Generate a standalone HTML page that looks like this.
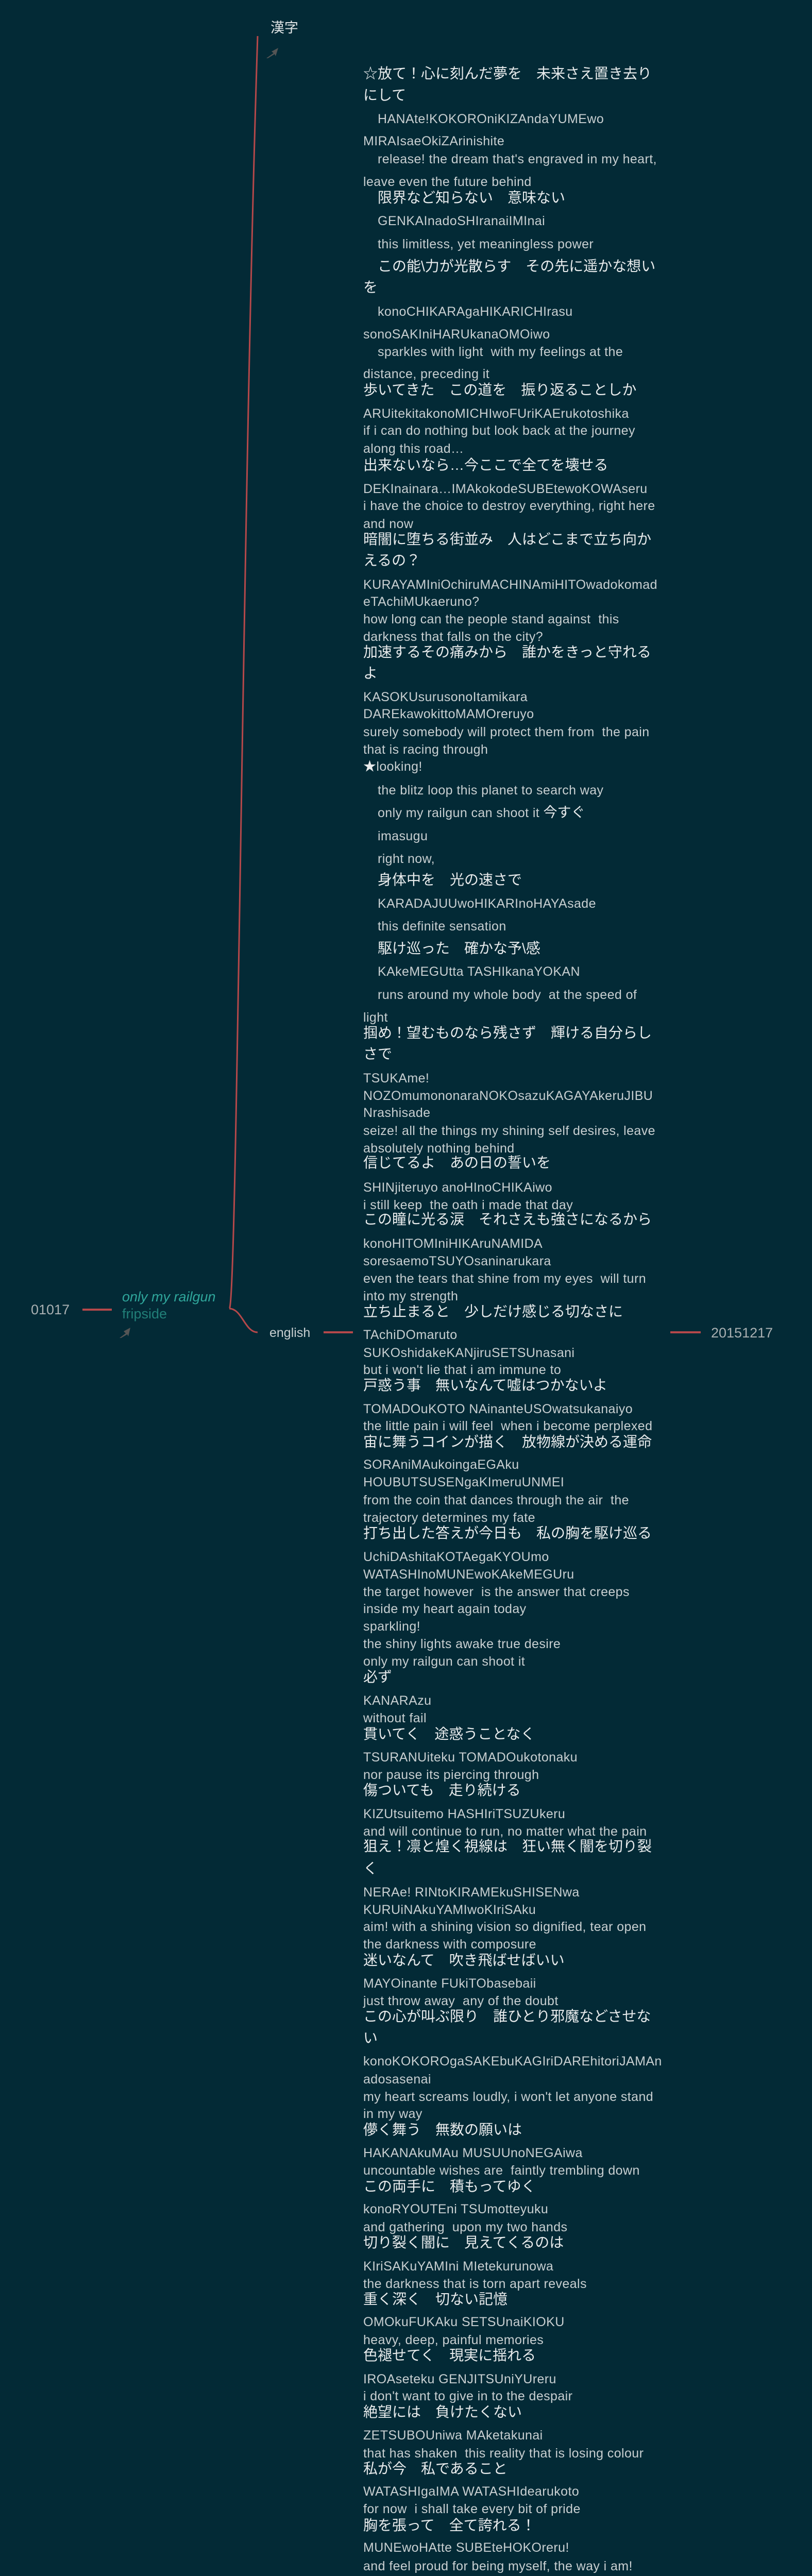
<!DOCTYPE html>
<html><head><meta charset="utf-8">
<style>
html,body{margin:0;padding:0;overflow:hidden;}
body{width:1576px;height:5084px;background:#032a36;position:relative;overflow:hidden;font-family:"Liberation Sans","Noto Sans CJK JP",sans-serif;}
svg{display:block;}
.l{position:absolute;left:705px;height:34px;line-height:34px;white-space:nowrap;font-size:25px;letter-spacing:0.4px;color:#c8cfd1;}
.j{font-size:28px;letter-spacing:0;color:#e8ebec;}
.i{left:733px;}
.n{position:absolute;white-space:nowrap;line-height:34px;height:34px;}
</style></head><body>
<svg width="1576" height="5084" style="position:absolute;left:0;top:0">
<path d="M445 2540 C 460 2540, 470 1000, 500 70" stroke="#b5484a" stroke-width="3" fill="none"/>
<path d="M445 2540 C 470 2540, 475 2586, 500 2586" stroke="#b5484a" stroke-width="3" fill="none"/>
<line x1="160" y1="2542" x2="217" y2="2542" stroke="#b5484a" stroke-width="4"/>
<line x1="628" y1="2586" x2="685" y2="2586" stroke="#b5484a" stroke-width="4"/>
<line x1="1301" y1="2586" x2="1360" y2="2586" stroke="#b5484a" stroke-width="4"/>
<polygon points="540,93 527,100 531,103 517,113 520,113 533,105 535,109" fill="#555"/>
<polygon points="253,2577 240,2584 244,2588 232,2597 235,2597 247,2590 249,2594" fill="#555"/>
</svg>
<div class="n" style="left:525px;top:37px;font-size:27px;color:#e0e4e5">漢字</div>
<div class="n" style="left:60px;top:2525px;font-size:27px;color:#a9b0b2">01017</div>
<div class="n" style="left:237px;top:2500px;font-size:27px;color:#2fa69b;font-style:italic">only my railgun</div>
<div class="n" style="left:237px;top:2533px;font-size:27px;color:#217f78">fripside</div>
<div class="n" style="left:523px;top:2570px;font-size:25px;color:#c8cfd1">english</div>
<div class="n" style="left:1380px;top:2570px;font-size:27px;color:#a9b0b2">20151217</div>

<div class="l j" style="top:126px">☆放て！心に刻んだ夢を　未来さえ置き去り</div>
<div class="l j" style="top:168px">にして</div>
<div class="l i" style="top:214px">HANAte!KOKOROniKIZAndaYUMEwo</div>
<div class="l" style="top:257px">MIRAIsaeOkiZArinishite</div>
<div class="l i" style="top:292px">release! the dream that's engraved in my heart,</div>
<div class="l" style="top:336px">leave even the future behind</div>
<div class="l j i" style="top:367px">限界など知らない　意味ない</div>
<div class="l i" style="top:412px">GENKAInadoSHIranaiIMInai</div>
<div class="l i" style="top:457px">this limitless, yet meaningless power</div>
<div class="l j i" style="top:500px">この能\力が光散らす　その先に遥かな想い</div>
<div class="l j" style="top:541px">を</div>
<div class="l i" style="top:588px">konoCHIKARAgaHIKARICHIrasu</div>
<div class="l" style="top:632px">sonoSAKIniHARUkanaOMOiwo</div>
<div class="l i" style="top:666px">sparkles with light&nbsp; with my feelings at the</div>
<div class="l" style="top:709px">distance, preceding it</div>
<div class="l j" style="top:740px">歩いてきた　この道を　振り返ることしか</div>
<div class="l" style="top:786px">ARUitekitakonoMICHIwoFUriKAErukotoshika</div>
<div class="l" style="top:819px">if i can do nothing but look back at the journey</div>
<div class="l" style="top:854px">along this road…</div>
<div class="l j" style="top:886px">出来ないなら…今ここで全てを壊せる</div>
<div class="l" style="top:932px">DEKInainara…IMAkokodeSUBEtewoKOWAseru</div>
<div class="l" style="top:965px">i have the choice to destroy everything, right here</div>
<div class="l" style="top:1000px">and now</div>
<div class="l j" style="top:1030px">暗闇に堕ちる街並み　人はどこまで立ち向か</div>
<div class="l j" style="top:1071px">えるの？</div>
<div class="l" style="top:1118px">KURAYAMIniOchiruMACHINAmiHITOwadokomad</div>
<div class="l" style="top:1151px">eTAchiMUkaeruno?</div>
<div class="l" style="top:1185px">how long can the people stand against&nbsp; this</div>
<div class="l" style="top:1219px">darkness that falls on the city?</div>
<div class="l j" style="top:1249px">加速するその痛みから　誰かをきっと守れる</div>
<div class="l j" style="top:1290px">よ</div>
<div class="l" style="top:1336px">KASOKUsurusonoItamikara</div>
<div class="l" style="top:1369px">DAREkawokittoMAMOreruyo</div>
<div class="l" style="top:1404px">surely somebody will protect them from&nbsp; the pain</div>
<div class="l" style="top:1438px">that is racing through</div>
<div class="l" style="top:1471px"><span style="color:#e8ebec">★</span>looking!</div>
<div class="l i" style="top:1517px">the blitz loop this planet to search way</div>
<div class="l i" style="top:1560px">only my railgun can shoot it <span style="font-size:27px;color:#e8ebec;letter-spacing:0">今すぐ</span></div>
<div class="l i" style="top:1606px">imasugu</div>
<div class="l i" style="top:1650px">right now,</div>
<div class="l j i" style="top:1691px">身体中を　光の速さで</div>
<div class="l i" style="top:1737px">KARADAJUUwoHIKARInoHAYAsade</div>
<div class="l i" style="top:1781px">this definite sensation</div>
<div class="l j i" style="top:1824px">駆け巡った　確かな予\感</div>
<div class="l i" style="top:1869px">KAkeMEGUtta TASHIkanaYOKAN</div>
<div class="l i" style="top:1914px">runs around my whole body&nbsp; at the speed of</div>
<div class="l" style="top:1958px">light</div>
<div class="l j" style="top:1988px">掴め！望むものなら残さず　輝ける自分らし</div>
<div class="l j" style="top:2029px">さで</div>
<div class="l" style="top:2076px">TSUKAme!</div>
<div class="l" style="top:2110px">NOZOmumononaraNOKOsazuKAGAYAkeruJIBU</div>
<div class="l" style="top:2143px">Nrashisade</div>
<div class="l" style="top:2178px">seize! all the things my shining self desires, leave</div>
<div class="l" style="top:2212px">absolutely nothing behind</div>
<div class="l j" style="top:2240px">信じてるよ　あの日の誓いを</div>
<div class="l" style="top:2288px">SHINjiteruyo anoHInoCHIKAiwo</div>
<div class="l" style="top:2322px">i still keep&nbsp; the oath i made that day</div>
<div class="l j" style="top:2350px">この瞳に光る涙　それさえも強さになるから</div>
<div class="l" style="top:2397px">konoHITOMIniHIKAruNAMIDA</div>
<div class="l" style="top:2431px">soresaemoTSUYOsaninarukara</div>
<div class="l" style="top:2465px">even the tears that shine from my eyes&nbsp; will turn</div>
<div class="l" style="top:2499px">into my strength</div>
<div class="l j" style="top:2529px">立ち止まると　少しだけ感じる切なさに</div>
<div class="l" style="top:2574px">TAchiDOmaruto</div>
<div class="l" style="top:2609px">SUKOshidakeKANjiruSETSUnasani</div>
<div class="l" style="top:2642px">but i won't lie that i am immune to</div>
<div class="l j" style="top:2672px">戸惑う事　無いなんて嘘はつかないよ</div>
<div class="l" style="top:2718px">TOMADOuKOTO NAinanteUSOwatsukanaiyo</div>
<div class="l" style="top:2751px">the little pain i will feel&nbsp; when i become perplexed</div>
<div class="l j" style="top:2782px">宙に舞うコインが描く　放物線が決める運命</div>
<div class="l" style="top:2826px">SORAniMAukoingaEGAku</div>
<div class="l" style="top:2860px">HOUBUTSUSENgaKImeruUNMEI</div>
<div class="l" style="top:2895px">from the coin that dances through the air&nbsp; the</div>
<div class="l" style="top:2929px">trajectory determines my fate</div>
<div class="l j" style="top:2959px">打ち出した答えが今日も　私の胸を駆け巡る</div>
<div class="l" style="top:3005px">UchiDAshitaKOTAegaKYOUmo</div>
<div class="l" style="top:3039px">WATASHInoMUNEwoKAkeMEGUru</div>
<div class="l" style="top:3073px">the target however&nbsp; is the answer that creeps</div>
<div class="l" style="top:3106px">inside my heart again today</div>
<div class="l" style="top:3140px">sparkling!</div>
<div class="l" style="top:3174px">the shiny lights awake true desire</div>
<div class="l" style="top:3208px">only my railgun can shoot it</div>
<div class="l j" style="top:3238px">必ず</div>
<div class="l" style="top:3284px">KANARAzu</div>
<div class="l" style="top:3318px">without fail</div>
<div class="l j" style="top:3349px">貫いてく　途惑うことなく</div>
<div class="l" style="top:3394px">TSURANUiteku TOMADOukotonaku</div>
<div class="l" style="top:3428px">nor pause its piercing through</div>
<div class="l j" style="top:3458px">傷ついても　走り続ける</div>
<div class="l" style="top:3504px">KIZUtsuitemo HASHIriTSUZUkeru</div>
<div class="l" style="top:3538px">and will continue to run, no matter what the pain</div>
<div class="l j" style="top:3567px">狙え！凛と煌く視線は　狂い無く闇を切り裂</div>
<div class="l j" style="top:3610px">く</div>
<div class="l" style="top:3656px">NERAe! RINtoKIRAMEkuSHISENwa</div>
<div class="l" style="top:3690px">KURUiNAkuYAMIwoKIriSAku</div>
<div class="l" style="top:3723px">aim! with a shining vision so dignified, tear open</div>
<div class="l" style="top:3757px">the darkness with composure</div>
<div class="l j" style="top:3788px">迷いなんて　吹き飛ばせばいい</div>
<div class="l" style="top:3833px">MAYOinante FUkiTObasebaii</div>
<div class="l" style="top:3867px">just throw away&nbsp; any of the doubt</div>
<div class="l j" style="top:3897px">この心が叫ぶ限り　誰ひとり邪魔などさせな</div>
<div class="l j" style="top:3939px">い</div>
<div class="l" style="top:3984px">konoKOKOROgaSAKEbuKAGIriDAREhitoriJAMAn</div>
<div class="l" style="top:4019px">adosasenai</div>
<div class="l" style="top:4053px">my heart screams loudly, i won't let anyone stand</div>
<div class="l" style="top:4086px">in my way</div>
<div class="l j" style="top:4117px">儚く舞う　無数の願いは</div>
<div class="l" style="top:4162px">HAKANAkuMAu MUSUUnoNEGAiwa</div>
<div class="l" style="top:4196px">uncountable wishes are&nbsp; faintly trembling down</div>
<div class="l j" style="top:4227px">この両手に　積もってゆく</div>
<div class="l" style="top:4271px">konoRYOUTEni TSUmotteyuku</div>
<div class="l" style="top:4306px">and gathering&nbsp; upon my two hands</div>
<div class="l j" style="top:4336px">切り裂く闇に　見えてくるのは</div>
<div class="l" style="top:4382px">KIriSAKuYAMIni MIetekurunowa</div>
<div class="l" style="top:4416px">the darkness that is torn apart reveals</div>
<div class="l j" style="top:4446px">重く深く　切ない記憶</div>
<div class="l" style="top:4490px">OMOkuFUKAku SETSUnaiKIOKU</div>
<div class="l" style="top:4525px">heavy, deep, painful memories</div>
<div class="l j" style="top:4555px">色褪せてく　現実に揺れる</div>
<div class="l" style="top:4601px">IROAseteku GENJITSUniYUreru</div>
<div class="l" style="top:4634px">i don't want to give in to the despair</div>
<div class="l j" style="top:4665px">絶望には　負けたくない</div>
<div class="l" style="top:4710px">ZETSUBOUniwa MAketakunai</div>
<div class="l" style="top:4745px">that has shaken&nbsp; this reality that is losing colour</div>
<div class="l j" style="top:4775px">私が今　私であること</div>
<div class="l" style="top:4819px">WATASHIgaIMA WATASHIdearukoto</div>
<div class="l" style="top:4853px">for now&nbsp; i shall take every bit of pride</div>
<div class="l j" style="top:4885px">胸を張って　全て誇れる！</div>
<div class="l" style="top:4928px">MUNEwoHAtte SUBEteHOKOreru!</div>
<div class="l" style="top:4964px">and feel proud for being myself, the way i am!</div>
<div class="l" style="top:4997px"><span style="color:#e8ebec">☆,★</span> repeat</div>
</body></html>
